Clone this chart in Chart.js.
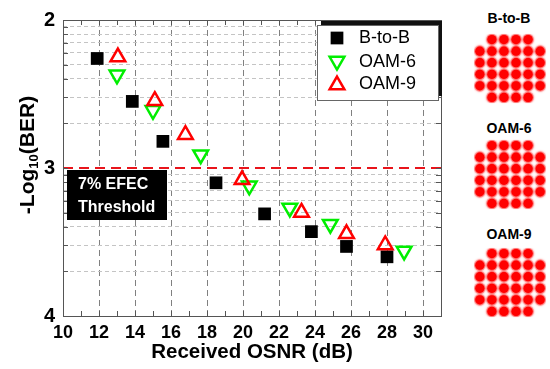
<!DOCTYPE html>
<html>
<head>
<meta charset="utf-8">
<script src="https://cdn.jsdelivr.net/npm/chart.js@4.4.0/dist/chart.umd.min.js"></script>
<style>
    body { margin: 0; background: #fff; width: 550px; height: 369px; overflow: hidden; position: relative; font-family: "Liberation Sans", Arial, sans-serif; }
    #main { position: absolute; left: 0; top: 0; }
    .qam { position: absolute; left: 468px; }
    .qt { position: absolute; left: 460px; width: 98px; text-align: center; font-weight: bold; font-size: 14px; line-height: 17px; color: #000; }
</style>
</head>
<body>
<canvas id="main" width="460" height="369"></canvas>

<div class="qt" style="top:10px">B-to-B</div>
<canvas class="qam" id="qamB2B" width="84" height="81" style="top:28px"></canvas>
<div class="qt" style="top:120px">OAM-6</div>
<canvas class="qam" id="qamOam6" width="84" height="81" style="top:134px"></canvas>
<div class="qt" style="top:226px">OAM-9</div>
<canvas class="qam" id="qamOam9" width="84" height="81" style="top:242px"></canvas>

<script>
// ---- data ----
const osnrB2B = [11.9, 13.85, 15.55, 18.5, 21.2, 23.8, 25.75, 28.0];
const berB2B  = [2.26, 2.55, 2.82, 3.10, 3.31, 3.43, 3.53, 3.60];

const osnrOam6 = [13.0, 15.0, 17.65, 20.35, 22.6, 24.85, 28.95];
const berOam6  = [2.37, 2.61, 2.91, 3.12, 3.27, 3.38, 3.56];

const osnrOam9 = [13.05, 15.1, 16.8, 19.95, 23.25, 25.75, 27.9];
const berOam9  = [2.25, 2.545, 2.775, 3.08, 3.30, 3.445, 3.52];

const fecThreshold = 3;
const xTickLabels = [10, 12, 14, 16, 18, 20, 22, 24, 26, 28, 30];
const yTickLabels = [2, 3, 4];
const yMinorMultipliers = [2, 3, 4, 5, 6, 7, 8, 9];

// 32-QAM constellation (cross shape)
const qamI = [-3, -1, 1, 3,
              -5, -3, -1, 1, 3, 5,
              -5, -3, -1, 1, 3, 5,
              -5, -3, -1, 1, 3, 5,
              -5, -3, -1, 1, 3, 5,
              -3, -1, 1, 3];
const qamQ = [5, 5, 5, 5,
              3, 3, 3, 3, 3, 3,
              1, 1, 1, 1, 1, 1,
              -1, -1, -1, -1, -1, -1,
              -3, -3, -3, -3, -3, -3,
              -5, -5, -5, -5];

const FONT = '"Liberation Sans", Arial, sans-serif';
const pts = (xs, ys) => xs.map((x, i) => ({ x: x, y: ys[i] }));

// y grid: decade-style minor lines in -log10(BER)
const yGridValues = [];
yTickLabels.forEach((v, i) => {
    yGridValues.push(v);
    if (i < yTickLabels.length - 1) {
        yMinorMultipliers.slice().reverse().forEach(k => yGridValues.push(v + 1 - Math.log10(k)));
    }
});

const framePlugin = {
    id: 'frame',
    afterDraw(chart) {
        const ctx = chart.ctx;
        const a = chart.chartArea;
        const xs = chart.scales.x, ys = chart.scales.y;
        ctx.save();

        // inward tick marks
        ctx.strokeStyle = '#555';
        ctx.lineWidth = 1;
        ctx.setLineDash([]);
        ctx.beginPath();
        for (let v = 10; v <= 31; v++) {
            const px = Math.round(xs.getPixelForValue(v)) + 0.5;
            ctx.moveTo(px, a.top); ctx.lineTo(px, a.top + 5);
            ctx.moveTo(px, a.bottom); ctx.lineTo(px, a.bottom - 5);
        }
        yGridValues.forEach(v => {
            const py = Math.round(ys.getPixelForValue(v)) + 0.5;
            ctx.moveTo(a.left, py); ctx.lineTo(a.left + 5, py);
            ctx.moveTo(a.right, py); ctx.lineTo(a.right - 5, py);
        });
        ctx.stroke();

        // plot border
        ctx.strokeStyle = '#555';
        ctx.strokeRect(Math.round(a.left) + 0.5, Math.round(a.top) + 0.5,
                       Math.round(a.right - a.left), Math.round(a.bottom - a.top));

        // threshold label box
        const bx = a.left + 4, by = ys.getPixelForValue(fecThreshold) + 2;
        ctx.fillStyle = '#000';
        ctx.fillRect(bx, by, 100, 50);
        ctx.fillStyle = '#fff';
        ctx.font = 'bold 16px ' + FONT;
        ctx.textBaseline = 'middle';
        ctx.textAlign = 'left';
        ctx.fillText('7% EFEC', bx + 11, by + 15);
        ctx.fillText('Threshold', bx + 11, by + 38);

        // legend with shadow
        const lx = a.right - 124, ly = a.top + 5, lw = 121, lh = 75;
        ctx.fillStyle = '#111';
        ctx.fillRect(lx + 4, ly - 4, lw, lh);
        ctx.fillStyle = '#fff';
        ctx.fillRect(lx, ly, lw, lh);
        ctx.strokeStyle = '#666';
        ctx.strokeRect(lx + 0.5, ly + 0.5, lw, lh);

        const rows = [
            { text: 'B-to-B', style: 'rect', rot: 0, r: 9, fill: '#000', stroke: '#000', bw: 0 },
            { text: 'OAM-6', style: 'triangle', rot: 180, r: 8.5, fill: 'rgba(0,0,0,0)', stroke: '#00ee00', bw: 2.5 },
            { text: 'OAM-9', style: 'triangle', rot: 0, r: 8.5, fill: 'rgba(0,0,0,0)', stroke: '#ff0000', bw: 2.5 }
        ];
        const rowY = [ly + 13, ly + 37, ly + 59];
        rows.forEach((r, i) => {
            ctx.fillStyle = r.fill;
            ctx.strokeStyle = r.stroke;
            ctx.lineWidth = r.bw;
            Chart.helpers.drawPoint(ctx, { pointStyle: r.style, rotation: r.rot, radius: r.r, borderWidth: r.bw },
                lx + 20, rowY[i] + (r.style === 'triangle' ? (r.rot ? -1 : 1) : 0));
            ctx.fillStyle = '#000';
            ctx.font = '18px ' + FONT;
            ctx.fillText(r.text, lx + 42, rowY[i]);
        });

        // y axis title with subscript
        ctx.translate(27, 155);
        ctx.rotate(-Math.PI / 2);
        const big = 'bold 21px ' + FONT, small = 'bold 13px ' + FONT;
        ctx.font = big; const w1 = ctx.measureText('-Log').width; const w3 = ctx.measureText('(BER)').width;
        ctx.font = small; const w2 = ctx.measureText('10').width;
        let x0 = -(w1 + w2 + w3) / 2;
        ctx.fillStyle = '#000';
        ctx.textBaseline = 'alphabetic';
        ctx.font = big; ctx.fillText('-Log', x0, 7);
        ctx.font = small; ctx.fillText('10', x0 + w1, 11);
        ctx.font = big; ctx.fillText('(BER)', x0 + w1 + w2, 7);
        ctx.restore();
    }
};

new Chart(document.getElementById('main'), {
    type: 'scatter',
    data: {
        datasets: [
            {
                label: 'threshold',
                data: [{ x: 10, y: fecThreshold }, { x: 31, y: fecThreshold }],
                showLine: true,
                borderColor: '#e8141b',
                borderWidth: 2,
                borderDash: [10, 6],
                pointRadius: 0,
                order: 10
            },
            {
                label: 'B-to-B',
                data: pts(osnrB2B, berB2B),
                pointStyle: 'rect',
                pointRadius: 9,
                backgroundColor: '#000',
                borderWidth: 0,
                order: 3
            },
            {
                label: 'OAM-6',
                data: pts(osnrOam6, berOam6),
                pointStyle: 'triangle',
                rotation: 180,
                pointRadius: 8.5,
                backgroundColor: 'rgba(0,0,0,0)',
                borderColor: '#00ee00',
                borderWidth: 2.5,
                order: 2
            },
            {
                label: 'OAM-9',
                data: pts(osnrOam9, berOam9),
                pointStyle: 'triangle',
                pointRadius: 8.5,
                backgroundColor: 'rgba(0,0,0,0)',
                borderColor: '#ff0000',
                borderWidth: 2.5,
                order: 1
            }
        ]
    },
    options: {
        responsive: false,
        animation: false,
        devicePixelRatio: 1,
        layout: { padding: { top: 17, right: 19, left: 0, bottom: 0 } },
        plugins: { legend: { display: false }, tooltip: { enabled: false } },
        scales: {
            x: {
                type: 'linear',
                min: 10,
                max: 31,
                afterFit: s => { s.height = 53; },
                afterBuildTicks: s => {
                    const t = [];
                    for (let v = 10; v <= 31; v++) t.push({ value: v });
                    s.ticks = t;
                },
                ticks: {
                    autoSkip: false,
                    maxRotation: 0,
                    padding: 6,
                    color: '#000',
                    font: { family: FONT, size: 18, weight: 'bold' },
                    callback: v => xTickLabels.includes(v) ? String(v) : ''
                },
                grid: {
                    drawTicks: false,
                    color: c => (c.tick && xTickLabels.includes(c.tick.value) && c.tick.value > 10) ? '#808080' : 'rgba(0,0,0,0)',
                    lineWidth: 1
                },
                border: { display: false, dash: [6, 4] },
                title: {
                    display: true,
                    text: 'Received OSNR (dB)',
                    color: '#000',
                    font: { family: FONT, size: 20.5, weight: 'bold' },
                    padding: { top: 0, bottom: 4 }
                }
            },
            y: {
                type: 'linear',
                min: 2,
                max: 4,
                reverse: true,
                afterFit: s => { s.width = 63; },
                afterBuildTicks: s => { s.ticks = yGridValues.map(v => ({ value: v })); },
                ticks: {
                    autoSkip: false,
                    padding: 8,
                    color: '#000',
                    font: { family: FONT, size: 20, weight: 'bold' },
                    callback: v => yTickLabels.includes(v) ? String(v) : ''
                },
                grid: {
                    drawTicks: false,
                    color: c => (c.tick && !yTickLabels.includes(c.tick.value)) ? '#c4c4c4' : 'rgba(0,0,0,0)',
                    lineWidth: 1
                },
                border: { display: false, dash: [4, 3] }
            }
        }
    },
    plugins: [framePlugin]
});

// soft edge on the constellation clouds
const glowPlugin = {
    id: 'glow',
    beforeDatasetsDraw(chart) {
        chart.ctx.save();
        chart.ctx.shadowColor = 'rgba(255,0,0,0.9)';
        chart.ctx.shadowBlur = 2.5;
    },
    afterDatasetsDraw(chart) {
        chart.ctx.restore();
    }
};

function drawConstellation(id) {
    new Chart(document.getElementById(id), {
        type: 'scatter',
        data: {
            datasets: [
                {
                    data: pts(qamI, qamQ),
                    pointRadius: 4.6,
                    pointStyle: 'circle',
                    backgroundColor: '#ff0000',
                    borderWidth: 0
                },
                {
                    data: pts(qamI, qamQ),
                    pointRadius: 5.8,
                    pointStyle: 'circle',
                    backgroundColor: 'rgba(255,0,0,0.25)',
                    borderWidth: 0
                }
            ]
        },
        options: {
            responsive: false,
            animation: false,
            devicePixelRatio: 1,
            layout: { padding: 0 },
            plugins: { legend: { display: false }, tooltip: { enabled: false } },
            scales: {
                x: { display: false, min: -6, max: 6 },
                y: { display: false, min: -6, max: 6 }
            }
        },
        plugins: [glowPlugin]
    });
}
drawConstellation('qamB2B');
drawConstellation('qamOam6');
drawConstellation('qamOam9');
</script>
</body>
</html>
